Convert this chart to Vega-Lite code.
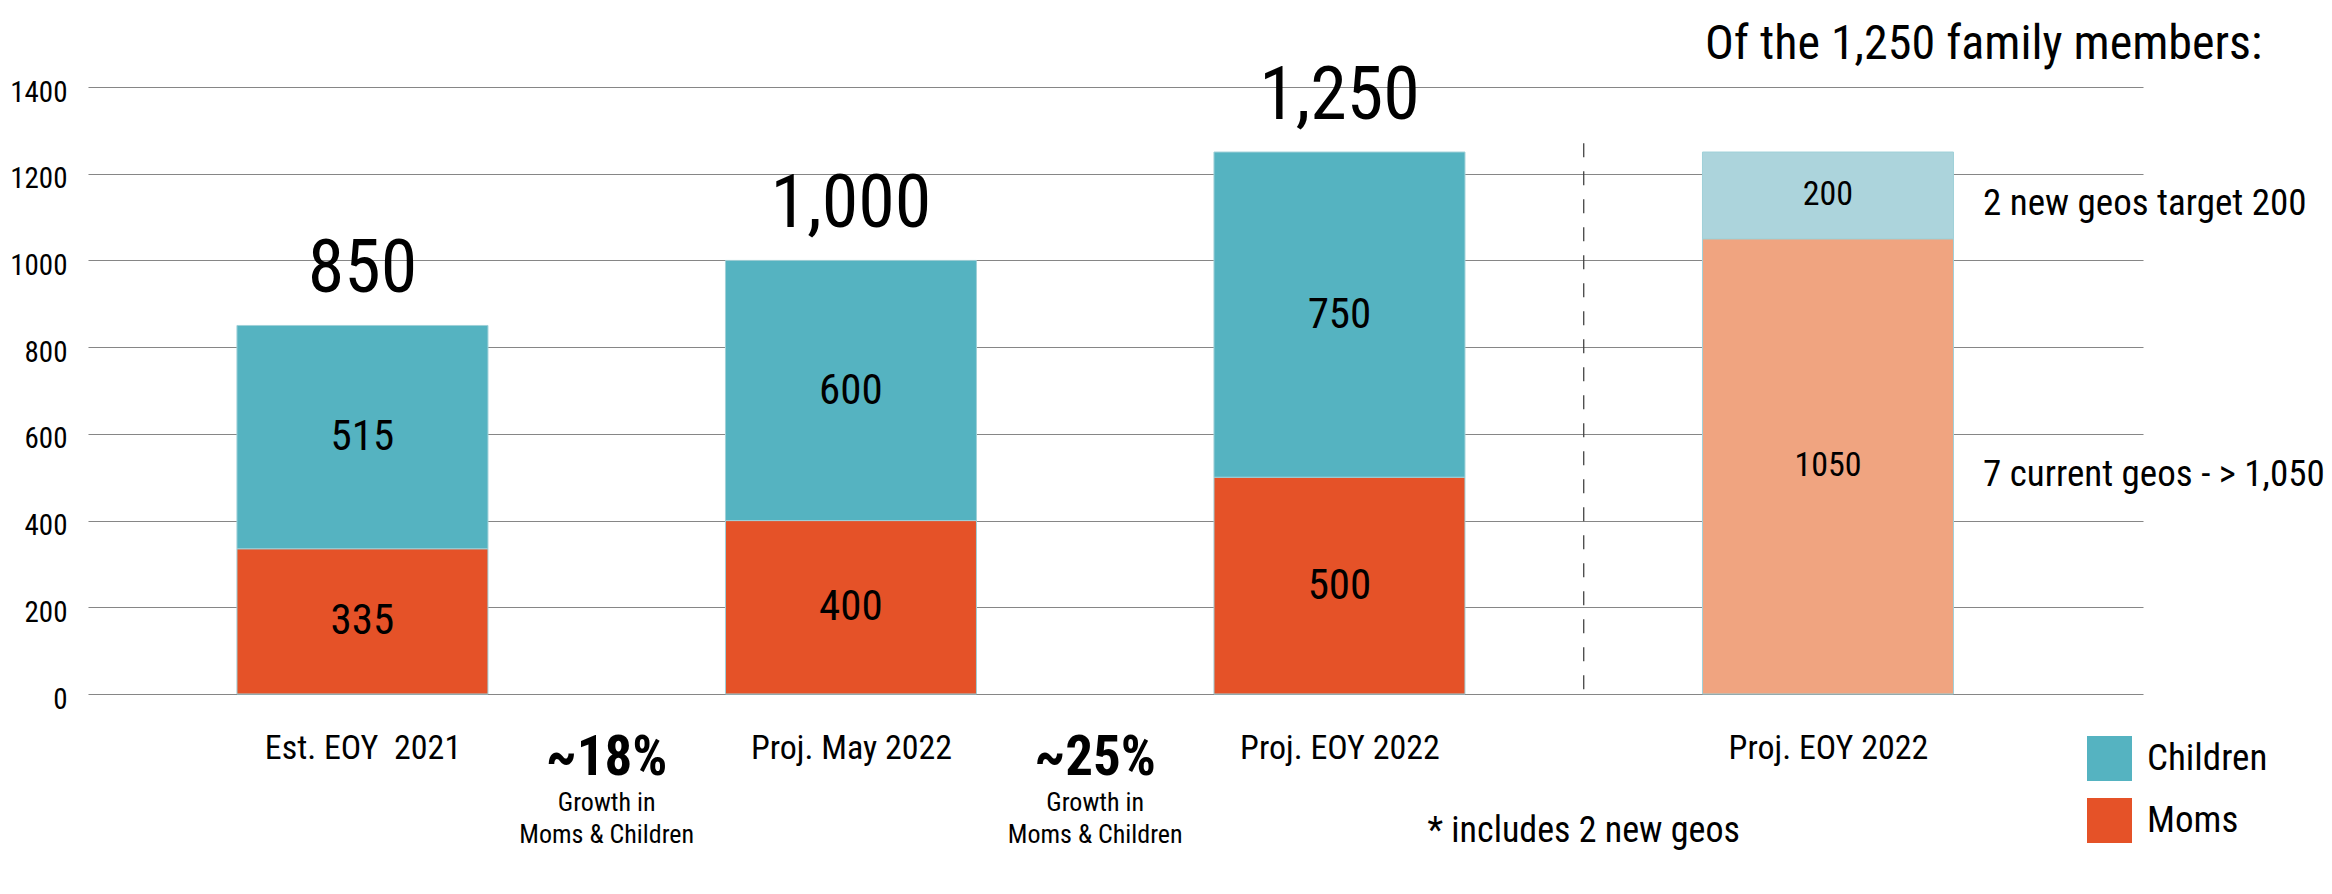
{
  "$schema": "https://vega.github.io/schema/vega-lite/v6.json",
  "width": 2055,
  "height": 607,
  "autosize": {"type": "none"},
  "padding": {"left": 88, "top": 87, "right": 189, "bottom": 200},
  "background": "white",
  "config": {
    "font": "Roboto Condensed, Roboto, sans-serif",
    "view": {"stroke": null},
    "text": {"color": "#000000"}
  },
  "datasets": {
    "bars": [
      {"period": "Est. EOY\u00a0 2021", "group": "Moms", "members": 335},
      {"period": "Est. EOY\u00a0 2021", "group": "Children", "members": 515},
      {"period": "Proj. May 2022", "group": "Moms", "members": 400},
      {"period": "Proj. May 2022", "group": "Children", "members": 600},
      {"period": "Proj. EOY 2022", "group": "Moms", "members": 500},
      {"period": "Proj. EOY 2022", "group": "Children", "members": 750},
      {"period": "Proj. EOY 2022 ", "group": "7 current geos", "members": 1050, "note": "7 current geos - > 1,050"},
      {"period": "Proj. EOY 2022 ", "group": "2 new geos", "members": 200, "note": "2 new geos target 200"}
    ],
    "growth": [
      {"between": "gap1", "pct": "~18%", "note": "Growth in\nMoms & Children"},
      {"between": "gap2", "pct": "~25%", "note": "Growth in\nMoms & Children"}
    ]
  },
  "data": {"name": "bars"},
  "layer": [
    {
      "mark": {"type": "bar", "width": 251, "stroke": "#9fd0d8", "strokeWidth": 1},
      "encoding": {
        "x": {
          "field": "period",
          "type": "nominal",
          "title": null,
          "scale": {
            "type": "point",
            "domain": ["Est. EOY\u00a0 2021", "gap1", "Proj. May 2022", "gap2", "Proj. EOY 2022", "gap3", "Proj. EOY 2022 ", "gap4"],
            "padding": 0.7067,
            "align": 0.795
          },
          "axis": {
            "title": null,
            "domain": false,
            "ticks": false,
            "tickSize": 0,
            "labelAngle": 0,
            "labelFontSize": 34,
            "labelPadding": 37,
            "labelLimit": 0,
            "labelColor": "#000000",
            "labelExpr": "indexof(datum.value, 'gap') == 0 ? '' : trim(datum.value)"
          }
        },
        "y": {
          "field": "members",
          "type": "quantitative",
          "stack": "zero",
          "title": null,
          "scale": {"domain": [0, 1400], "nice": false},
          "axis": {
            "title": null,
            "values": [0, 200, 400, 600, 800, 1000, 1200, 1400],
            "format": "d",
            "grid": true,
            "gridColor": "#868686",
            "gridWidth": 1.2,
            "domain": false,
            "ticks": false,
            "tickSize": 0,
            "labelFontSize": 29,
            "labelPadding": 21,
            "labelOffset": 5,
            "labelColor": "#000000"
          }
        },
        "color": {
          "field": "group",
          "type": "nominal",
          "scale": {
            "domain": ["Children", "Moms", "2 new geos", "7 current geos"],
            "range": ["#55b3c1", "#e55228", "#acd4dc", "#f0a480"]
          },
          "legend": {
            "values": ["Children", "Moms"],
            "title": null,
            "orient": "none",
            "legendX": 1999,
            "legendY": 649,
            "padding": 0,
            "symbolType": "square",
            "symbolSize": 2025,
            "symbolStrokeWidth": 0,
            "labelFontSize": 37,
            "labelOffset": 15,
            "rowPadding": 17,
            "labelColor": "#000000"
          }
        },
        "order": {"field": "group", "sort": "descending"}
      }
    },
    {
      "mark": {"type": "text", "baseline": "middle"},
      "encoding": {
        "x": {"field": "period", "type": "nominal", "title": null},
        "y": {"field": "members", "type": "quantitative", "stack": "zero", "bandPosition": 0.5, "title": null},
        "detail": {"field": "group"},
        "order": {"field": "group", "sort": "descending"},
        "text": {"field": "members", "type": "quantitative", "format": "d"},
        "size": {"condition": {"test": "datum.period == 'Proj. EOY 2022 '", "value": 34}, "value": 43}
      }
    },
    {
      "transform": [
        {"filter": "datum.group == 'Moms' || datum.group == 'Children'"},
        {"aggregate": [{"op": "sum", "field": "members", "as": "total"}], "groupby": ["period"]}
      ],
      "mark": {"type": "text", "baseline": "alphabetic", "dy": -33, "fontSize": 74},
      "encoding": {
        "x": {"field": "period", "type": "nominal", "title": null},
        "y": {"field": "total", "type": "quantitative", "title": null},
        "text": {"field": "total", "type": "quantitative", "format": ","}
      }
    },
    {
      "transform": [{"filter": "isValid(datum.note)"}],
      "mark": {"type": "text", "align": "left", "baseline": "middle", "dx": 155, "dy": 9, "fontSize": 37},
      "encoding": {
        "x": {"field": "period", "type": "nominal", "title": null},
        "y": {"field": "members", "type": "quantitative", "stack": "zero", "bandPosition": 0.5, "title": null},
        "detail": {"field": "group"},
        "order": {"field": "group", "sort": "descending"},
        "text": {"field": "note"}
      }
    },
    {
      "data": {"name": "growth"},
      "mark": {"type": "text", "baseline": "alphabetic", "dy": 81, "fontSize": 55, "fontWeight": "bold"},
      "encoding": {
        "x": {"field": "between", "type": "nominal", "title": null},
        "y": {"datum": 0, "type": "quantitative"},
        "text": {"field": "pct"}
      }
    },
    {
      "data": {"name": "growth"},
      "mark": {"type": "text", "baseline": "alphabetic", "dy": 117, "fontSize": 26, "lineHeight": 32, "lineBreak": "\n"},
      "encoding": {
        "x": {"field": "between", "type": "nominal", "title": null},
        "y": {"datum": 0, "type": "quantitative"},
        "text": {"field": "note"}
      }
    },
    {
      "data": {"values": [{"note": "* includes 2 new geos"}]},
      "mark": {"type": "text", "baseline": "alphabetic", "dy": 148, "fontSize": 36},
      "encoding": {
        "x": {"datum": "gap3", "type": "nominal"},
        "y": {"datum": 0, "type": "quantitative"},
        "text": {"field": "note"}
      }
    },
    {
      "data": {"values": [{"divider": "separates the breakdown"}]},
      "mark": {"type": "rule", "color": "#444444", "strokeWidth": 1.3, "strokeDash": [14, 14]},
      "encoding": {
        "x": {"datum": "gap3", "type": "nominal"},
        "y": {"datum": 1270, "type": "quantitative"},
        "y2": {"datum": 0}
      }
    },
    {
      "data": {"values": [{"heading": "Of the 1,250 family members:"}]},
      "mark": {"type": "text", "align": "left", "baseline": "alphabetic", "dx": -123, "dy": -28, "fontSize": 48},
      "encoding": {
        "x": {"datum": "Proj. EOY 2022 ", "type": "nominal"},
        "y": {"datum": 1400, "type": "quantitative"},
        "text": {"field": "heading"}
      }
    }
  ]
}
